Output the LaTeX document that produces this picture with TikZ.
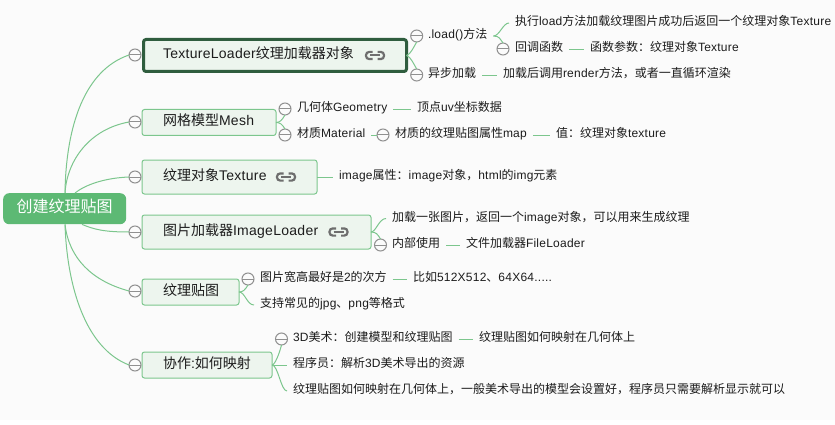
\documentclass[tikz,border=0pt]{standalone}
\usepackage{fontspec}
\setmainfont[LetterSpace=2]{Liberation Sans}
\newfontfamily\cjk{Noto Sans CJK SC}
\newXeTeXintercharclass\cjkcls
\newcount\cc
\cc="3000 \loop \XeTeXcharclass\cc=\cjkcls \advance\cc 1 \ifnum\cc<"A000 \repeat
\cc="FF00 \loop \XeTeXcharclass\cc=\cjkcls \advance\cc 1 \ifnum\cc<"FFF0 \repeat
\XeTeXinterchartoks 0 \cjkcls={\cjk}
\XeTeXinterchartoks 4095 \cjkcls={\cjk}
\XeTeXinterchartoks \cjkcls 0={\rmfamily}
\XeTeXinterchartoks \cjkcls 4095={\rmfamily}
\XeTeXinterchartokenstate=1
\definecolor{branch}{HTML}{7CC68D}
\definecolor{rootfill}{HTML}{5DB974}
\definecolor{topicfill}{HTML}{EDF5EE}
\definecolor{darkedge}{HTML}{2F5D3E}
\definecolor{foldgray}{HTML}{909090}
\definecolor{linkgray}{HTML}{6E6E6E}
\definecolor{txt}{HTML}{1C1C1C}
\definecolor{bg}{HTML}{FBFBFB}
\tikzset{
  rootbox/.style={draw=none,fill=rootfill,rounded corners=6pt,anchor=north west,text=white,
    font=\fontsize{16}{18}\selectfont,minimum width=123pt,minimum height=31pt,inner sep=0pt,text height=10pt,text depth=3pt},
  topicbox/.style={draw=branch,line width=1pt,fill=topicfill,rounded corners=2.5pt,anchor=north west,text=txt,
    font=\fontsize{14}{16}\selectfont,inner sep=0pt,outer sep=0pt,text height=9pt,text depth=2.4pt},
  hotbox/.style={topicbox,draw=darkedge,line width=3pt},
  leaf/.style={anchor=west,text=txt,font=\fontsize{12}{14}\selectfont,inner xsep=6pt,inner ysep=0pt,outer sep=0pt,text height=8pt,text depth=2.8pt},
  fold/.style={circle,draw=foldgray,line width=1pt,fill=bg,minimum size=12pt,inner sep=0pt,outer sep=0pt,
    path picture={\draw[foldgray,line width=1pt] (path picture bounding box.west) -- (path picture bounding box.east);}},
  conn/.style={draw=branch,line width=1pt},
  thinconn/.style={draw=branch,line width=0.7pt},
  linkicon/.pic={
    \draw[linkgray,line width=2.2pt,rounded corners=3.2pt] (-2.5,-3.6) -- (-9,-3.6) -- (-9,3.6) -- (-2.5,3.6);
    \draw[linkgray,line width=2.2pt,rounded corners=3.2pt] (2.5,-3.6) -- (9,-3.6) -- (9,3.6) -- (2.5,3.6);
    \draw[linkgray,line width=2pt] (-5,0) -- (5,0);
  }
}
\newcommand\ttl[3][21]{\makebox[#2pt][l]{\hspace{#1pt}#3}}
\begin{document}
\begin{tikzpicture}[x=1pt,y=-1pt]
\useasboundingbox (0,0) rectangle (835,425);
\fill[bg] (0,0) rectangle (835,420);

% root and topics
\node[rootbox] (root) at (3,193) {创建纹理贴图};
\node[hotbox,minimum width=263pt,minimum height=32pt] (t1) at (143.5,39.5) {\ttl[19.5]{263}{TextureLoader纹理加载器对象}};
\node[topicbox,minimum width=134pt,minimum height=26pt] (t2) at (142,109.5) {\ttl{134}{网格模型Mesh}};
\node[topicbox,minimum width=175pt,minimum height=34pt] (t3) at (142,160) {\ttl{175}{纹理对象Texture}};
\node[topicbox,minimum width=229pt,minimum height=34pt] (t4) at (142,215) {\ttl{229}{图片加载器ImageLoader}};
\node[topicbox,minimum width=97pt,minimum height=26pt] (t5) at (142,279) {\ttl{97}{纹理贴图}};
\node[topicbox,minimum width=130pt,minimum height=26pt] (t6) at (142,352) {\ttl{130}{协作:如何映射}};

\pic at (375,55.5) {linkicon};
\pic at (286,177) {linkicon};
\pic at (338.5,232) {linkicon};

% fold markers
\node[fold] (f1) at (135,55) {};
\node[fold] (f2) at (135,122) {};
\node[fold] (f3) at (135,177) {};
\node[fold] (f4) at (135,232) {};
\node[fold] (f5) at (135,291) {};
\node[fold] (f6) at (135,365) {};
\node[fold] (fload) at (416.7,36) {};
\node[fold] (fasync) at (416.7,75) {};
\node[fold] (fcb) at (503,49) {};
\node[fold] (fgeo) at (285,109) {};
\node[fold] (fmat) at (285,135) {};
\node[fold] (fmap) at (383,135) {};
\node[fold] (finner) at (380.5,245) {};
\node[fold] (fsize) at (248,279) {};
\node[fold] (fart) at (281.5,339) {};

% leaf texts
\node[leaf] (load) at (422,36) {.load()方法};
\node[leaf] (exec) at (509,23) {执行load方法加载纹理图片成功后返回一个纹理对象Texture};
\node[leaf] (cb) at (509,49) {回调函数};
\node[leaf] (cbarg) at (584,49) {函数参数：纹理对象Texture};
\node[leaf] (async) at (422,75) {异步加载};
\node[leaf] (render) at (497,75) {加载后调用render方法，或者一直循环渲染};
\node[leaf] (geo) at (291,109) {几何体Geometry};
\node[leaf] (uv) at (411,109) {顶点uv坐标数据};
\node[leaf] (mat) at (291,135) {材质Material};
\node[leaf] (map) at (389,135) {材质的纹理贴图属性map};
\node[leaf] (val) at (550,135) {值：纹理对象texture};
\node[leaf] (img) at (333,177) {image属性：image对象，html的img元素};
\node[leaf] (one) at (386,218.5) {加载一张图片，返回一个image对象，可以用来生成纹理};
\node[leaf] (inner) at (386,245) {内部使用};
\node[leaf] (file) at (460,245) {文件加载器FileLoader};
\node[leaf] (size) at (254,279) {图片宽高最好是2的次方};
\node[leaf] (eg) at (407,279) {比如512X512、64X64.....};
\node[leaf] (fmt) at (254,305) {支持常见的jpg、png等格式};
\node[leaf] (art) at (287,339) {3D美术：创建模型和纹理贴图};
\node[leaf] (how) at (473,339) {纹理贴图如何映射在几何体上};
\node[leaf] (dev) at (287,365) {程序员：解析3D美术导出的资源};
\node[leaf] (note) at (287,391) {纹理贴图如何映射在几何体上，一般美术导出的模型会设置好，程序员只需要解析显示就可以};

% root connectors
\draw[conn] ([xshift=62pt]root.north west) .. controls +(1,-68) and +(-44,15) .. (f1.west);
\draw[conn] ([xshift=62pt]root.north west) .. controls +(2,-33) and +(-39,7) .. (f2.west);
\draw[conn] ([xshift=72pt]root.north west) .. controls +(10,-8) and +(-25,1) .. (f3.west);
\draw[conn] ([xshift=79pt]root.south west) .. controls +(12,5) and +(-25,0) .. (f4.west);
\draw[conn] ([xshift=62pt]root.south west) .. controls +(4,34) and +(-37,-10) .. (f5.west);
\draw[conn] ([xshift=62pt]root.south west) .. controls +(2,61) and +(-44,-17) .. (f6.west);

% branch connectors
\draw[conn] (t1.east) .. controls +(4,-1) and +(-3,5) .. (fload.south);
\draw[conn] (t1.east) .. controls +(4,1) and +(-3,-5) .. (fasync.north);
\draw[conn] (load.east) .. controls +(6,0) and +(-6,0) .. (exec.west);
\draw[conn] (load.east) .. controls +(6,0) and +(-3,-4) .. (fcb.north);
\draw[thinconn] (cb.east) -- (cbarg.west);
\draw[thinconn] (async.east) -- (render.west);
\draw[conn] (t2.east) .. controls +(4,0) and +(-3,5) .. (fgeo.south);
\draw[conn] (t2.east) .. controls +(4,0) and +(-3,-5) .. (fmat.north);
\draw[thinconn] (geo.east) -- (uv.west);
\draw[thinconn] (mat.east) -- (fmap.west);
\draw[thinconn] (map.east) -- (val.west);
\draw[thinconn] (t3.east) -- (img.west);
\draw[conn] (t4.east) .. controls +(5,0) and +(-7,0) .. (one.west);
\draw[conn] (t4.east) .. controls +(5,0) and +(-3,-5) .. (finner.north);
\draw[thinconn] (inner.east) -- (file.west);
\draw[conn] (t5.east) .. controls +(4,0) and +(-3,5) .. (fsize.south);
\draw[conn] (t5.east) .. controls +(6,0) and +(-7,0) .. (fmt.west);
\draw[thinconn] (size.east) -- (eg.west);
\draw[conn] (t6.east) .. controls +(3,0) and +(-2,8) .. (fart.south);
\draw[thinconn] (t6.east) -- (dev.west);
\draw[conn] (t6.east) .. controls +(6,0) and +(-6,0) .. (note.west);
\draw[thinconn] (art.east) -- (how.west);
\end{tikzpicture}
\end{document}
